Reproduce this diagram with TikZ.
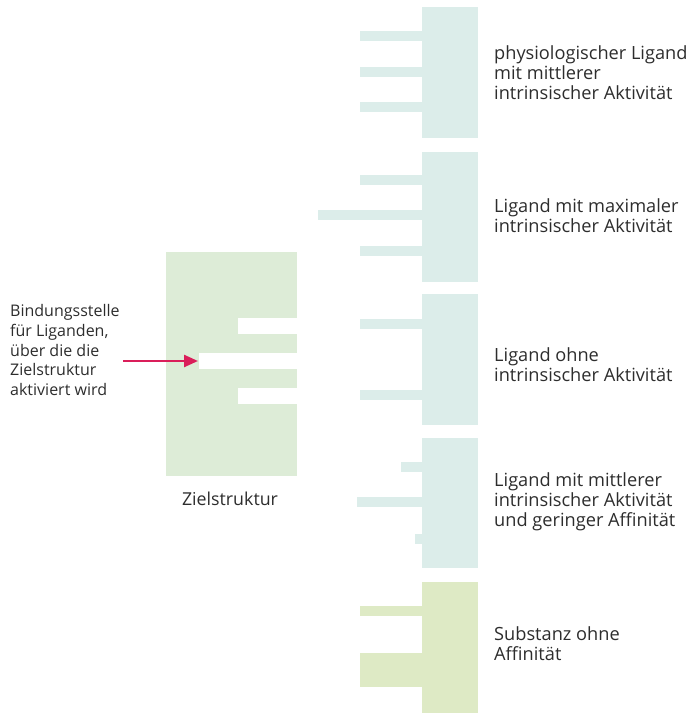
\documentclass[tikz,border=0pt]{standalone}
\usepackage{fontspec}
\setmainfont{Open Sans}
\usetikzlibrary{arrows.meta}
\definecolor{ligc}{RGB}{220,237,234}
\definecolor{zielc}{RGB}{221,236,215}
\definecolor{subc}{RGB}{222,234,197}
\definecolor{arrc}{RGB}{218,30,90}
\definecolor{txtc}{RGB}{45,45,45}
\begin{document}
\begin{tikzpicture}[x=1pt,y=-1pt,
  lbl/.style={anchor=west, align=left, inner sep=0pt, text=txtc,
    font=\fontsize{18.2}{20}\selectfont},
  leftlbl/.style={lbl, font=\fontsize{16}{19.6}\selectfont},
  pointer/.style={draw=arrc, line width=2.4pt, -{Triangle[length=14pt,width=12pt]}}]
\useasboundingbox (0,0) rectangle (690,714);
% ligand 1
\fill[ligc] (422,7) rectangle (478,138);
\fill[ligc] (360,31.5) rectangle (422,41);
\fill[ligc] (360,67) rectangle (422,77);
\fill[ligc] (360,102.5) rectangle (422,112);
% ligand 2
\fill[ligc] (422,152) rectangle (478,282);
\fill[ligc] (360,175) rectangle (422,185);
\fill[ligc] (318,210) rectangle (422,220);
\fill[ligc] (360,246) rectangle (422,256);
% ligand 3
\fill[ligc] (422,294) rectangle (478,425);
\fill[ligc] (360,319) rectangle (422,329);
\fill[ligc] (360,390) rectangle (422,400);
% ligand 4
\fill[ligc] (422,438) rectangle (478,568);
\fill[ligc] (401,462) rectangle (422,472);
\fill[ligc] (357,497) rectangle (422,507);
\fill[ligc] (415,534) rectangle (422,544);
% substance
\fill[subc] (422,582) rectangle (478,713);
\fill[subc] (360,606) rectangle (422,616);
\fill[subc] (360,653) rectangle (422,687);
% target structure
\fill[zielc] (166,252) rectangle (297,476);
\fill[white] (238,318) rectangle (297,334);
\fill[white] (199,353) rectangle (297,369);
\fill[white] (238,388) rectangle (297,404);
\coordinate (site) at (198,361);
\coordinate (start) at (123,361);
% labels
\node[lbl] (t1) at (494,73) {physiologischer Ligand\\mit mittlerer\\intrinsischer Aktivität};
\node[lbl] (t2) at (494,216) {Ligand mit maximaler\\intrinsischer Aktivität};
\node[lbl] (t3) at (494,365) {Ligand ohne\\intrinsischer Aktivität};
\node[lbl] (t4) at (494,502) {Ligand mit mittlerer\\intrinsischer Aktivität\\und geringer Affinität};
\node[lbl] (t5) at (494,644) {Substanz ohne\\Affinität};
\node[leftlbl] (left) at (10,350) {Bindungsstelle\\für Liganden,\\über die die\\Zielstruktur\\aktiviert wird};
\node[lbl, anchor=center, font=\fontsize{17.8}{20}\selectfont] (ziel) at (230,499) {Zielstruktur};
\draw[pointer] (start) -- (site);
\end{tikzpicture}
\end{document}
